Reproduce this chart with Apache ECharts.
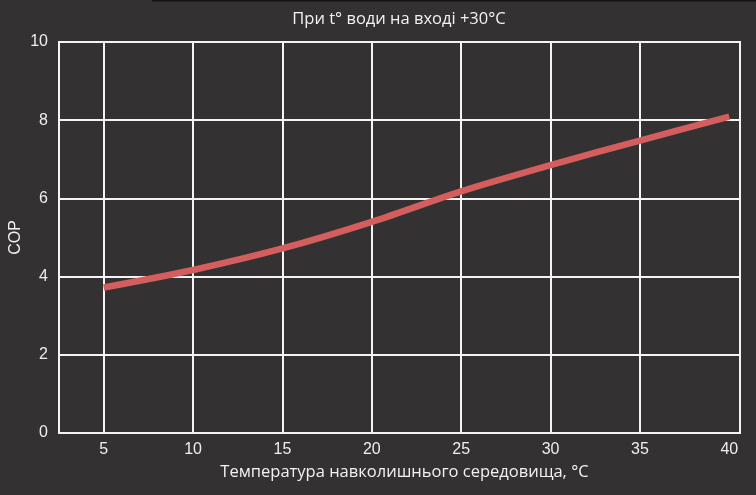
<!DOCTYPE html>
<html>
<head>
<meta charset="utf-8">
<script src="https://cdn.jsdelivr.net/npm/echarts@6/dist/echarts.min.js"></script>
<style>
html,body{margin:0;padding:0;background:#333132;}
#chart{width:756px;height:495px;}
</style>
</head>
<body>
<div id="chart"></div>
<script>
const titleText = 'При t° води на вході +30°C';
const xName = 'Температура навколишнього середовища, °C';
const yName = 'COP';
const temps = [5, 10, 15, 20, 25, 30, 35, 40];
const cop = [3.72, 4.17, 4.72, 5.40, 6.18, 6.85, 7.48, 8.09];
const xGridTicks = [5, 10, 15, 20, 25, 30, 35];
const xLabelTicks = [5, 10, 15, 20, 25, 30, 35, 40];

const chart = echarts.init(document.getElementById('chart'));
chart.setOption({
  backgroundColor: '#333132',
  animation: false,
  title: {
    text: titleText,
    left: 394, top: 6, textAlign: 'center',
    textStyle: { color: '#f2f2f2', fontFamily: 'Open Sans', fontSize: 16.5, fontWeight: 'normal' }
  },
  graphic: [{
    type: 'rect', shape: { x: 152, y: 0, width: 604, height: 1.5 },
    style: { fill: '#141414' }, silent: true
  }],
  grid: {
    left: 59, right: 16, top: 42, bottom: 62,
    outerBoundsMode: 'none', containLabel: false,
    show: true, borderColor: '#f4f4f4', borderWidth: 2, backgroundColor: 'transparent'
  },
  xAxis: {
    type: 'value', min: 2.5, max: 40.6,
    name: xName, nameLocation: 'middle', nameGap: 31,
    nameTextStyle: { color: '#f2f2f2', fontFamily: 'Open Sans', fontSize: 16.5, padding: [0, 0, 0, 10] },
    axisLine: { show: true, lineStyle: { color: '#f4f4f4', width: 2 } },
    axisTick: { show: false, customValues: xGridTicks },
    axisLabel: { customValues: xLabelTicks, color: '#eeeeee', fontFamily: 'Liberation Sans', fontSize: 16, margin: 9 },
    splitLine: { show: true, lineStyle: { color: '#f4f4f4', width: 2 } }
  },
  yAxis: {
    type: 'value', min: 0, max: 10, interval: 2,
    name: yName, nameLocation: 'middle', nameGap: 35, nameRotate: 90, nameMoveOverlap: false,
    nameTextStyle: { color: '#f2f2f2', fontFamily: 'Liberation Sans', fontSize: 16 },
    axisLine: { show: true, lineStyle: { color: '#f4f4f4', width: 2 } },
    axisTick: { show: false },
    axisLabel: { color: '#eeeeee', fontFamily: 'Liberation Sans', fontSize: 16, margin: 11 },
    splitLine: { show: true, lineStyle: { color: '#f4f4f4', width: 2 } }
  },
  series: [{
    type: 'line',
    data: temps.map((t, i) => [t, cop[i]]),
    smooth: 0.3,
    showSymbol: false,
    lineStyle: { color: '#d45d5d', width: 6.5, cap: 'butt' }
  }]
});
</script>
</body>
</html>
